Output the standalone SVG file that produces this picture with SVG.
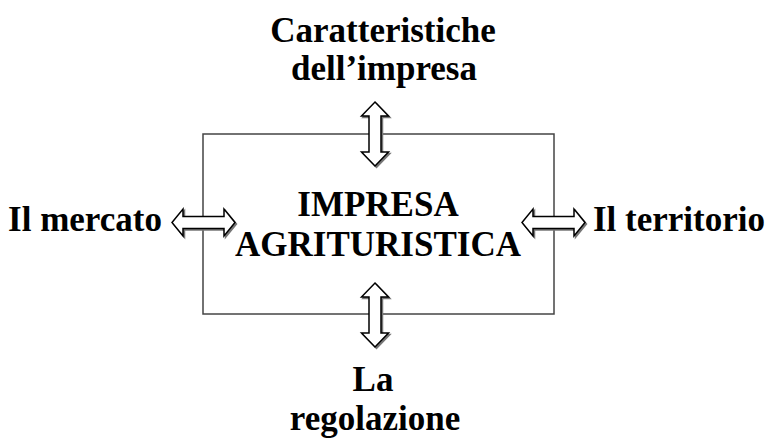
<svg xmlns="http://www.w3.org/2000/svg" width="768" height="439" viewBox="0 0 768 439">
<style>
.t{font-family:"Liberation Serif","Times New Roman",serif;font-weight:bold;font-size:35px;fill:#000;text-anchor:middle}
.box{fill:none;stroke:#444;stroke-width:1.5}
.arr{fill:#fff;stroke:#000;stroke-width:1.5;stroke-linejoin:miter}
.sh{fill:#777;stroke:#777;stroke-width:1.5}
</style>
<defs>
<polygon id="va" points="0,-32 13.5,-18 6,-18 6,18 13.5,18 0,32 -13.5,18 -6,18 -6,-18 -13.5,-18"/>
<polygon id="ha" points="-31.5,0 -20.5,-13.5 -20.5,-6 20.5,-6 20.5,-13.5 31.5,0 20.5,13.5 20.5,6 -20.5,6 -20.5,13.5"/>
</defs>
<g id="center">
<rect class="box" x="203" y="134" width="351" height="180"/>
<text class="t" x="378" y="216">IMPRESA</text>
<text class="t" x="378" y="256">AGRITURISTICA</text>
</g>
<g id="top">
<text class="t" x="383" y="42">Caratteristiche</text>
<text class="t" x="384" y="80">dell’impresa</text>
</g>
<g id="left">
<text class="t" x="85" y="231">Il mercato</text>
</g>
<g id="right">
<text class="t" x="679" y="231">Il territorio</text>
</g>
<g id="bottom">
<text class="t" x="373" y="391">La</text>
<text class="t" x="375" y="430">regolazione</text>
</g>
<g id="connectors">
<use href="#va" class="sh" x="376.5" y="135.5"/>
<use href="#va" class="arr" x="375" y="134"/>
<use href="#va" class="sh" x="376.5" y="316.5"/>
<use href="#va" class="arr" x="375" y="315"/>
<use href="#ha" class="sh" x="205" y="224"/>
<use href="#ha" class="arr" x="203.5" y="222.5"/>
<use href="#ha" class="sh" x="555" y="224"/>
<use href="#ha" class="arr" x="553.5" y="222.5"/>
</g>
</svg>
